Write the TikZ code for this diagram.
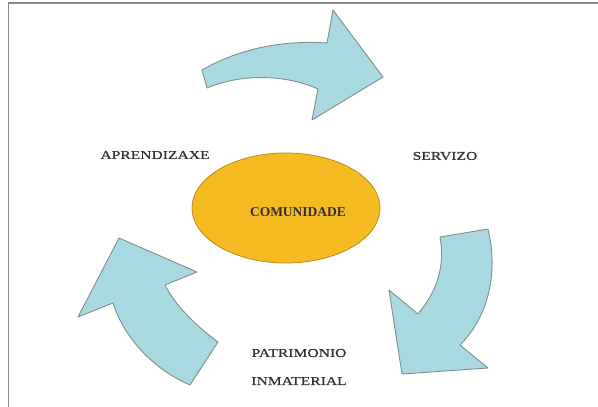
\documentclass[tikz,border=0pt]{standalone}
\usepackage{fontspec}
\setmainfont{Liberation Serif}
\newfontfamily\lblfont[FakeStretch=1.3,FakeBold=0.6]{Liberation Serif}
\usetikzlibrary{shapes.geometric}
\definecolor{arrowfill}{HTML}{A9D9E0}
\definecolor{arrowline}{HTML}{7F8E90}
\definecolor{ellfill}{HTML}{F6BB22}
\definecolor{ellline}{HTML}{B98E1E}
\definecolor{txt}{HTML}{303030}
\definecolor{frame}{HTML}{8A8A8A}
\tikzset{
  bigarrow/.style={fill=arrowfill, draw=arrowline, line width=0.9pt, line join=round},
  lbl/.style={font=\lblfont\fontsize{12}{14}\selectfont, text=txt, inner sep=0pt},
}
\begin{document}
\begin{tikzpicture}[x=1pt,y=-1pt]
\useasboundingbox (0,0) rectangle (598,407);
\fill[white] (0,0) rectangle (598,407);
\draw[frame, line width=1.5pt] (8.5,407) -- (8.5,3) -- (598,3);
% top arrow
\draw[bigarrow] (202,70) .. controls (240,48) and (285,40) .. (327,43) -- (333,10) -- (383,77) -- (312,120) -- (318,89) .. controls (290,76) and (245,72) .. (207,88) -- cycle;
% right arrow
\draw[bigarrow] (440,237) -- (488,229) .. controls (498,270) and (490,315) .. (460,345) -- (488,368) -- (402,374) -- (389,290) -- (418,314) .. controls (438,290) and (445,265) .. (440,237) -- cycle;
% left arrow
\draw[bigarrow] (190,385) -- (218,342) .. controls (195,325) and (175,305) .. (165,285) -- (197,272) -- (119,238) -- (78,317) -- (113,303) .. controls (125,340) and (155,370) .. (190,385) -- cycle;
% ellipse
\node[ellipse, draw=ellline, fill=ellfill, line width=0.8pt, minimum width=188pt, minimum height=110pt, inner sep=0pt] (com) at (286,208) {};
\node[inner sep=0pt, text=txt, font=\fontsize{13.5}{15}\selectfont\bfseries] (comt) at (298,212) {COMUNIDADE};
\node[lbl] (apr) at (155,155) {APRENDIZAXE};
\node[lbl] (ser) at (445,156) {SERVIZO};
\node[lbl] (pat) at (299,353) {PATRIMONIO};
\node[lbl] (inm) at (299,381) {INMATERIAL};
\end{tikzpicture}
\end{document}
